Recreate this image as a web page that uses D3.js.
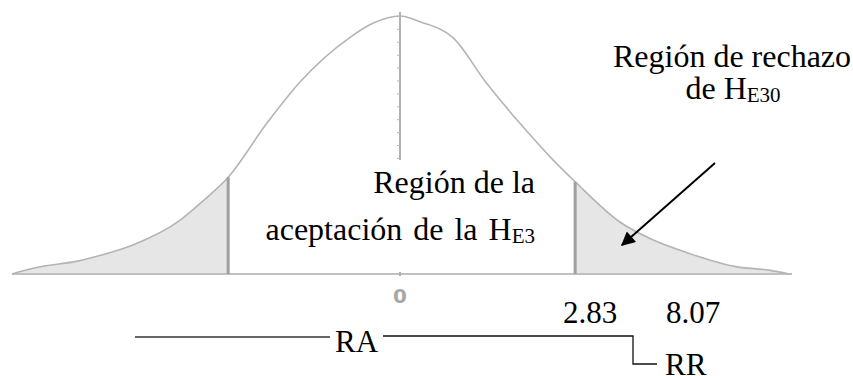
<!DOCTYPE html>
<html>
<head>
<meta charset="utf-8">
<script src="https://cdn.jsdelivr.net/npm/d3@7"></script>
<style>
  body { margin: 0; background: #fff; }
  svg { display: block; }
  .serif { font-family: "Liberation Serif", "Times New Roman", serif; fill: #000; }
</style>
</head>
<body>
<svg width="853" height="376"></svg>
<script>
// curve (z value, height)
var curveX = [-3.5, -3.31, -3.22, -2.91, -2.70, -2.41, -1.98, -1.80, -1.55, -1.20, -0.90, -0.45, -0.24, 0,
              0.18, 0.48, 0.78, 1.08, 1.38, 1.58, 1.98, 2.28, 2.59, 3.04, 3.33, 3.51];
var curveY = [0, 0.009, 0.012, 0.020, 0.029, 0.045, 0.084, 0.110, 0.150, 0.234, 0.298, 0.367, 0.389, 0.400,
              0.391, 0.366, 0.296, 0.234, 0.177, 0.143, 0.081, 0.053, 0.033, 0.011, 0.006, 0];
var critLeft = -1.55, critRight = 1.58;
var centerLabel = "0";
var valueLabels = ["2.83", "8.07"];

var data = curveX.map(function(d, i) { return { x: d, y: curveY[i] }; });

var svg = d3.select("svg");

var x = d3.scaleLinear().domain([-3.5, 3.5]).range([12, 788]);
var y = d3.scaleLinear().domain([0, 0.4]).range([274, 16]);

var area = d3.area()
    .curve(d3.curveMonotoneX)
    .x(function(d) { return x(d.x); })
    .y0(y(0))
    .y1(function(d) { return y(d.y); });

var line = d3.line()
    .curve(d3.curveMonotoneX)
    .x(function(d) { return x(d.x); })
    .y(function(d) { return y(d.y); });

// shaded tails
svg.append("path")
    .datum(data.filter(function(d) { return d.x <= critLeft; }))
    .attr("d", area)
    .attr("fill", "#e6e6e6");
svg.append("path")
    .datum(data.filter(function(d) { return d.x >= critRight; }))
    .attr("d", area)
    .attr("fill", "#e6e6e6");

// center axis with small ticks
var yAxis = svg.append("g")
    .attr("transform", "translate(" + x(0) + ",0)")
    .call(d3.axisLeft(y).tickValues(d3.range(0, 0.401, 0.02)).tickSize(3).tickFormat(""));
yAxis.select(".domain").attr("stroke", "#b0b0b0").attr("stroke-width", 2);
yAxis.selectAll(".tick line").attr("stroke", "#b8b8b8");
yAxis.select(".domain").attr("d", "M0," + (y(0.4) - 4) + "V" + y(0));

// baseline
svg.append("line")
    .attr("x1", x(-3.5)).attr("x2", x(3.5) + 4)
    .attr("y1", y(0)).attr("y2", y(0))
    .attr("stroke", "#c0c0c0").attr("stroke-width", 2);

// density curve
svg.append("path")
    .datum(data)
    .attr("d", line)
    .attr("fill", "none")
    .attr("stroke", "#b4b4b4")
    .attr("stroke-width", 1.6);

// critical value lines
[critLeft, critRight].forEach(function(c) {
    var d = data.find(function(p) { return p.x === c; });
    svg.append("line")
        .attr("x1", x(c)).attr("x2", x(c))
        .attr("y1", y(d.y)).attr("y2", y(0))
        .attr("stroke", "#a0a0a0").attr("stroke-width", 3);
});

// white box behind the acceptance label
svg.append("rect")
    .attr("x", 262).attr("y", 160)
    .attr("width", 283).attr("height", 112)
    .attr("fill", "#fff");

// bottom tick at 0
svg.append("line")
    .attr("x1", x(0)).attr("x2", x(0))
    .attr("y1", y(0) - 2).attr("y2", y(0) + 2)
    .attr("stroke", "#b0b0b0").attr("stroke-width", 2);

svg.append("text")
    .attr("x", x(0)).attr("y", 303)
    .attr("text-anchor", "middle")
    .style("font-family", "DejaVu Sans, sans-serif")
    .style("font-weight", "bold")
    .style("font-size", "20px")
    .style("fill", "#a8a8a8")
    .text(centerLabel);

// acceptance text
svg.append("text").attr("class", "serif")
    .attr("x", 535).attr("y", 193)
    .attr("text-anchor", "end")
    .style("font-size", "32px")
    .text("Región de la");
var t2 = svg.append("text").attr("class", "serif")
    .attr("x", 535).attr("y", 240)
    .attr("text-anchor", "end")
    .style("font-size", "32px")
    .style("word-spacing", "3px");
t2.append("tspan").text("aceptación de la H");
t2.append("tspan").attr("dy", 3).style("font-size", "21px").text("E3");

// rejection text
svg.append("text").attr("class", "serif")
    .attr("x", 732).attr("y", 67)
    .attr("text-anchor", "middle")
    .style("font-size", "32px")
    .text("Región de rechazo");
var t4 = svg.append("text").attr("class", "serif")
    .attr("x", 733).attr("y", 99)
    .attr("text-anchor", "middle")
    .style("font-size", "32px");
t4.append("tspan").text("de H");
t4.append("tspan").attr("dy", 3).style("font-size", "21px").text("E30");

// arrow
svg.append("defs").append("marker")
    .attr("id", "arrow")
    .attr("viewBox", "0 0 10 10")
    .attr("refX", 9).attr("refY", 5)
    .attr("markerWidth", 8).attr("markerHeight", 7)
    .attr("markerUnits", "strokeWidth")
    .attr("orient", "auto")
  .append("path")
    .attr("d", "M0,0L10,5L0,10z")
    .attr("fill", "#000");
svg.append("line")
    .attr("x1", 715).attr("y1", 163)
    .attr("x2", 622).attr("y2", 245)
    .attr("stroke", "#000").attr("stroke-width", 2)
    .attr("marker-end", "url(#arrow)");

// value labels
svg.append("text").attr("class", "serif")
    .attr("x", 590).attr("y", 323)
    .attr("text-anchor", "middle")
    .style("font-size", "31px")
    .text(valueLabels[0]);
svg.append("text").attr("class", "serif")
    .attr("x", 693).attr("y", 323)
    .attr("text-anchor", "middle")
    .style("font-size", "31px")
    .text(valueLabels[1]);

// RA / RR bracket
svg.append("line")
    .attr("x1", 135).attr("x2", 330)
    .attr("y1", 337).attr("y2", 337)
    .attr("stroke", "#333").attr("stroke-width", 1.5);
svg.append("text").attr("class", "serif")
    .attr("x", 335).attr("y", 352)
    .style("font-size", "31px")
    .text("RA");
svg.append("path")
    .attr("d", "M383,336H633V364H657")
    .attr("fill", "none")
    .attr("stroke", "#111").attr("stroke-width", 1.3);
svg.append("text").attr("class", "serif")
    .attr("x", 665).attr("y", 375)
    .style("font-size", "31px")
    .text("RR");
</script>
</body>
</html>
